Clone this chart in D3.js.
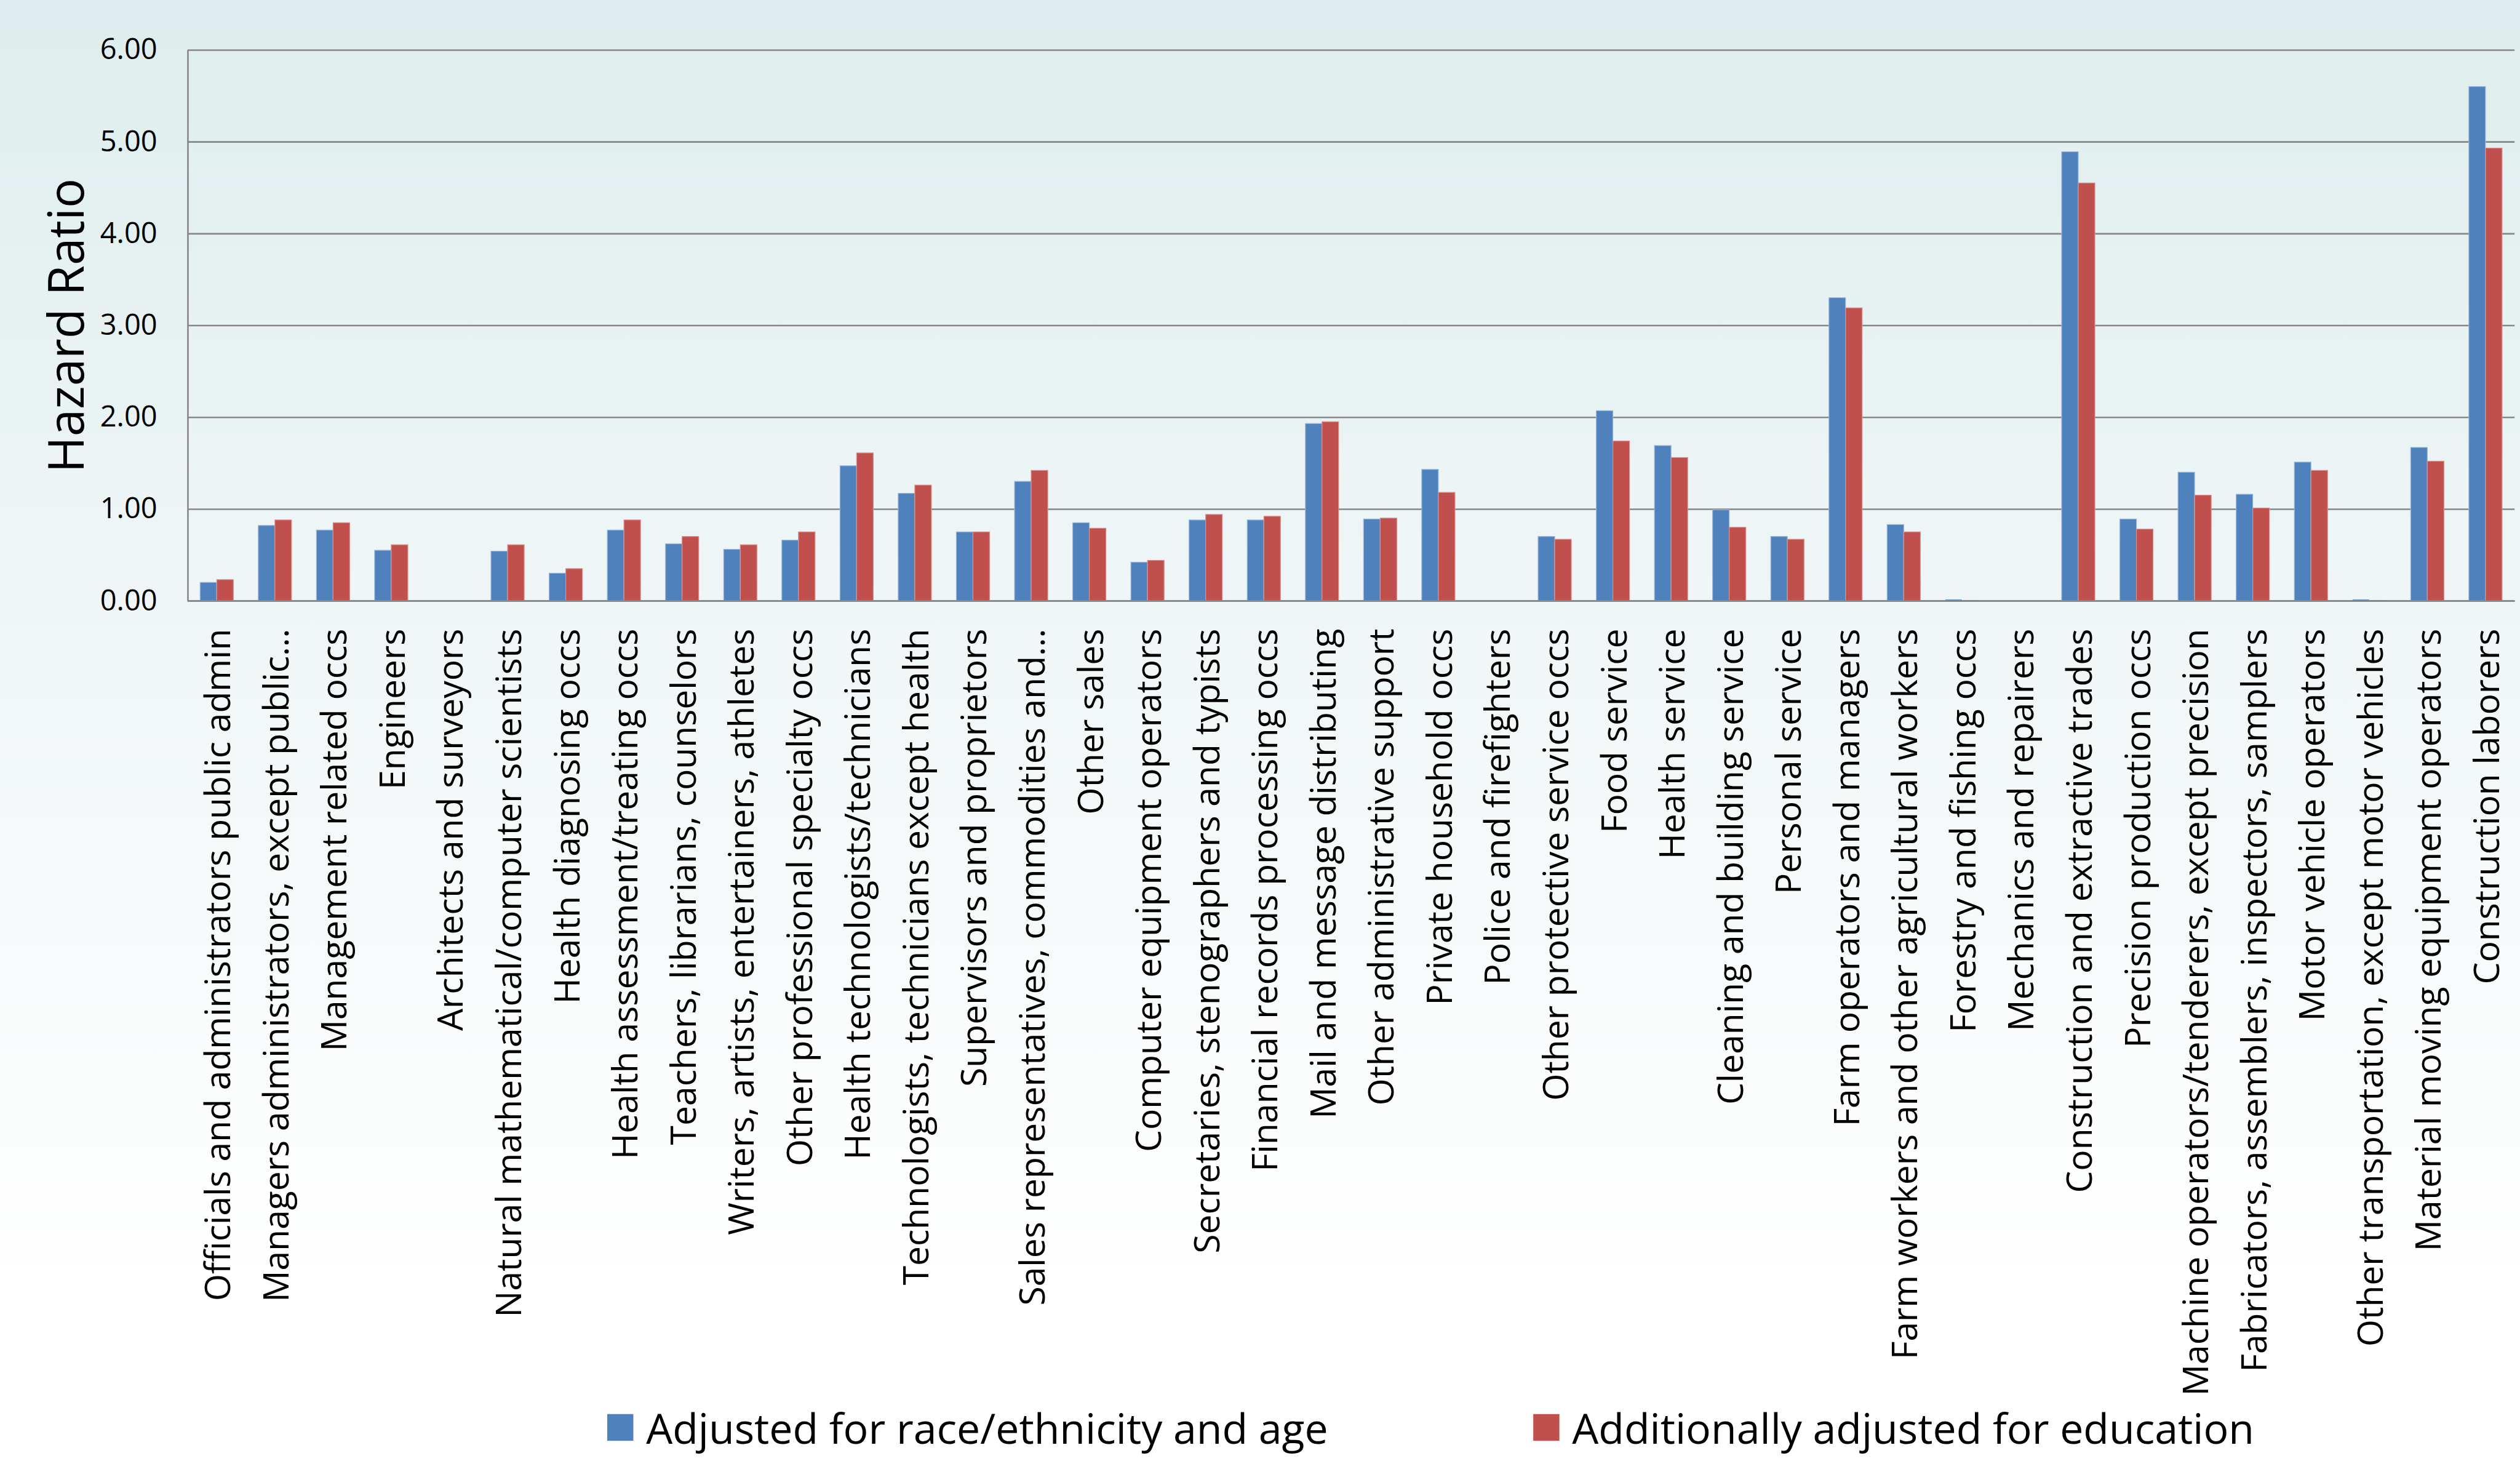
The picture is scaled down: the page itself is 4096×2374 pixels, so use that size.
<!DOCTYPE html>
<html>
<head>
<meta charset="utf-8">
<script src="https://cdn.jsdelivr.net/npm/d3@7"></script>
<style>
  html, body { margin: 0; padding: 0; background: #ffffff; }
  svg { display: block; }
  text { font-family: "Open Sans", "Lato", sans-serif; fill: #000; }
</style>
</head>
<body>
<script>
const categories = [
  "Officials and administrators public admin",
  "Managers administrators, except public\u2026",
  "Management related occs",
  "Engineers",
  "Architects and surveyors",
  "Natural mathematical/computer scientists",
  "Health diagnosing occs",
  "Health assessment/treating occs",
  "Teachers, librarians, counselors",
  "Writers, artists, entertainers, athletes",
  "Other professional specialty occs",
  "Health technologists/technicians",
  "Technologists, technicians except health",
  "Supervisors and proprietors",
  "Sales representatives, commodities and\u2026",
  "Other sales",
  "Computer equipment operators",
  "Secretaries, stenographers and typists",
  "Financial records processing occs",
  "Mail and message distributing",
  "Other administrative support",
  "Private household occs",
  "Police and firefighters",
  "Other protective service occs",
  "Food service",
  "Health service",
  "Cleaning and building service",
  "Personal service",
  "Farm operators and managers",
  "Farm workers and other agricultural workers",
  "Forestry and fishing occs",
  "Mechanics and repairers",
  "Construction and extractive trades",
  "Precision production occs",
  "Machine operators/tenderers, except precision",
  "Fabricators, assemblers, inspectors, samplers",
  "Motor vehicle operators",
  "Other transportation, except motor vehicles",
  "Material moving equipment operators",
  "Construction laborers"
];

const adjustedRaceAge = [
  0.20, 0.82, 0.77, 0.55, 0, 0.54, 0.30, 0.77, 0.62, 0.56,
  0.66, 1.47, 1.17, 0.75, 1.30, 0.85, 0.42, 0.88, 0.88, 1.93,
  0.89, 1.43, 0, 0.70, 2.07, 1.69, 0.99, 0.70, 3.30, 0.83,
  0.013, 0, 4.89, 0.89, 1.40, 1.16, 1.51, 0.013, 1.67, 5.60
];

const additionallyEducation = [
  0.23, 0.88, 0.85, 0.61, 0, 0.61, 0.35, 0.88, 0.70, 0.61,
  0.75, 1.61, 1.26, 0.75, 1.42, 0.79, 0.44, 0.94, 0.92, 1.95,
  0.90, 1.18, 0, 0.67, 1.74, 1.56, 0.80, 0.67, 3.19, 0.75,
  0.005, 0, 4.55, 0.78, 1.15, 1.01, 1.42, 0.005, 1.52, 4.93
];

const seriesNames = ["Adjusted for race/ethnicity and age", "Additionally adjusted for education"];
const seriesColors = ["#4f81bd", "#c0504d"];
const yTicks = [0, 1, 2, 3, 4, 5, 6];
const yTitle = "Hazard Ratio";

const W = 4096, H = 2374, S = 0.987;
const m = { left: 309 * S, right: 4141 * S, top: 82 * S, bottom: 989 * S };

const svg = d3.select("body").append("svg").attr("width", W).attr("height", H);

const defs = svg.append("defs");
const grad = defs.append("linearGradient").attr("id", "bg").attr("x1", 0).attr("y1", 0).attr("x2", 0).attr("y2", 1);
grad.append("stop").attr("offset", "0%").attr("stop-color", "#deeded");
grad.append("stop").attr("offset", "42%").attr("stop-color", "#f0f6f7");
grad.append("stop").attr("offset", "88%").attr("stop-color", "#ffffff");
grad.append("stop").attr("offset", "100%").attr("stop-color", "#ffffff");
svg.append("rect").attr("x", 0).attr("y", 0).attr("width", W).attr("height", H).attr("fill", "url(#bg)");

const x = d3.scaleBand().domain(categories).range([m.left, m.right]).paddingInner(0).paddingOuter(0);
const barW = x.bandwidth() / 3.5;
const xs = d3.scaleBand().domain([0, 1]).range([x.bandwidth() / 2 - barW, x.bandwidth() / 2 + barW]);
const y = d3.scaleLinear().domain([0, 6]).range([m.bottom, m.top]);

// gridlines
const grid = d3.axisLeft(y).tickValues(yTicks).tickSize(-(m.right - m.left)).tickFormat("");
svg.append("g").attr("transform", `translate(${m.left},0)`).call(grid)
  .call(g => g.select(".domain").remove())
  .call(g => g.selectAll(".tick line").attr("stroke", "#878787").attr("stroke-width", 2.6));

// bars
const series = [adjustedRaceAge, additionallyEducation];
const groups = svg.append("g").selectAll("g").data(categories).join("g")
  .attr("transform", d => `translate(${x(d)},0)`);
groups.selectAll("rect").data((d, i) => series.map((s, k) => ({ k, v: s[i] }))).join("rect")
  .attr("x", d => xs(d.k))
  .attr("width", xs.bandwidth())
  .attr("y", d => y(d.v))
  .attr("height", d => y(0) - y(d.v))
  .attr("fill", d => seriesColors[d.k])
  .attr("stroke", d => d.k === 0 ? "#9db7d8" : "#d9918f")
  .attr("stroke-width", d => d.v > 0.05 ? 1.2 : 0);

// y axis
const yAxis = d3.axisLeft(y).tickValues(yTicks).tickSize(0).tickPadding(50 * S).tickFormat(d3.format(".2f"));
svg.append("g").attr("transform", `translate(${m.left},0)`).call(yAxis)
  .call(g => g.select(".domain").attr("stroke", "#878787").attr("stroke-width", 2.6))
  .call(g => g.selectAll("text").attr("font-size", 47).attr("font-family", "Open Sans").attr("fill", "#000"));

// x axis
const xAxis = d3.axisBottom(x).tickSize(0).tickPadding(0);
const xg = svg.append("g").attr("transform", `translate(0,${m.bottom})`).call(xAxis);
xg.select(".domain").attr("stroke", "#878787").attr("stroke-width", 2.6);
xg.selectAll(".tick text")
  .attr("font-size", 57)
  .attr("font-family", "Open Sans")
  .attr("text-anchor", "end")
  .attr("dominant-baseline", "central")
  .attr("dy", null)
  .attr("y", 0)
  .attr("transform", `translate(0,${46 * S}) rotate(-90)`);

// y title
svg.append("text")
  .attr("transform", `translate(${106 * S},${536 * S}) rotate(-90)`)
  .attr("text-anchor", "middle")
  .attr("dominant-baseline", "central")
  .attr("font-size", 80)
  .text(yTitle);

// legend
const legendX = [1000 * S, 2525 * S];
const lg = svg.append("g").selectAll("g").data(seriesNames).join("g")
  .attr("transform", (d, i) => `translate(${legendX[i]},${2350 * S})`);
lg.append("rect").attr("x", 0).attr("y", -22 * S).attr("width", 43 * S).attr("height", 44 * S)
  .attr("fill", (d, i) => seriesColors[i]);
lg.append("text").attr("x", 64 * S).attr("y", 0).attr("dominant-baseline", "central")
  .attr("font-size", 68).text(d => d);
</script>
</body>
</html>
